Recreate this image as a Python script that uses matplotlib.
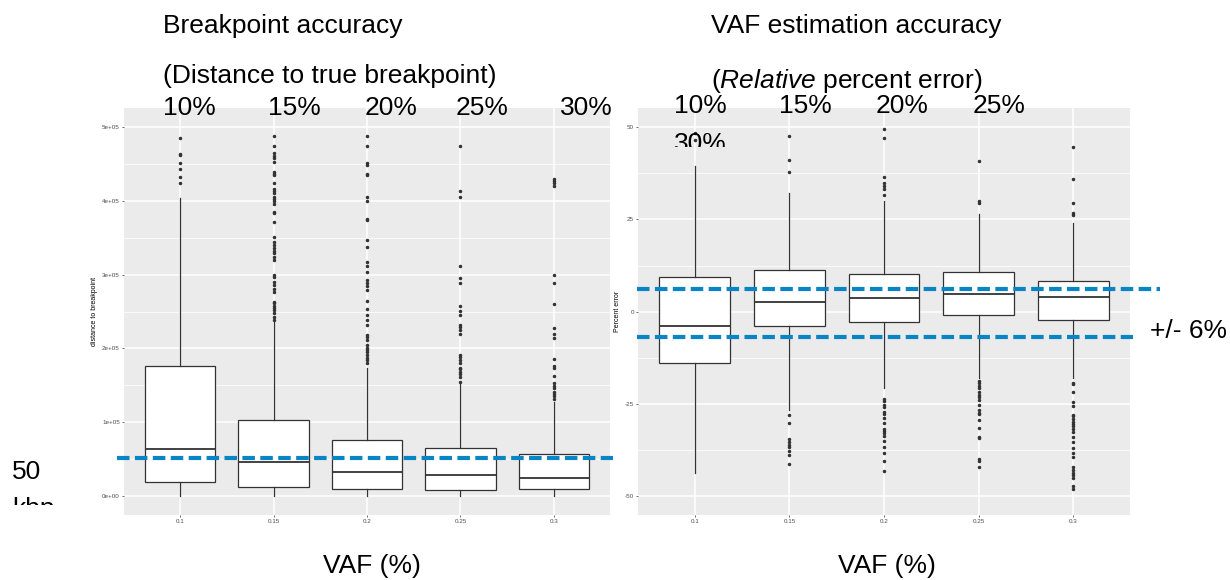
import matplotlib
matplotlib.use('Agg')
import matplotlib.pyplot as plt
from matplotlib.transforms import Bbox

plt.rcParams['font.family'] = ['Liberation Sans', 'DejaVu Sans']
plt.rcParams['mathtext.fontset'] = 'custom'
plt.rcParams['mathtext.rm'] = 'Liberation Sans'
plt.rcParams['mathtext.it'] = 'Liberation Sans:italic'

# categories
vaf_ticks = ['0.1', '0.15', '0.2', '0.25', '0.3']
vaf_pct = ['10%', '15%', '20%', '25%', '30%']

# breakpoint distance (bp) box stats
bp_whislo = [0, 0, 0, 0, 0]
bp_q1 = [19000, 12600, 9500, 8000, 9000]
bp_med = [64000, 45600, 32500, 28000, 24800]
bp_q3 = [176000, 102600, 75500, 64600, 56500]
bp_whishi = [404000, 236000, 173000, 153000, 128000]
bp_fliers = [
    [485000, 463000, 462000, 452000, 443000, 433000, 425000],
    [488000, 474000, 465000, 461000, 458000, 453000, 439000, 437000, 435000, 425000,
     416000, 414000, 411000, 406000, 402000, 400000, 396000, 385000, 384000, 371000,
     351000, 345000, 340000, 336000, 332000, 329000, 324000, 320000, 300000, 297000,
     290000, 286000, 280000, 277000, 263000, 261000, 258000, 255000, 252000, 248000,
     243000, 239000],
    [488000, 474000, 452000, 449000, 436000, 435000, 406000, 400000, 376000, 374000,
     347000, 338000, 317000, 312000, 304000, 293000, 289000, 285000, 279000, 264000,
     253000, 246000, 239000, 232000, 218000, 215000, 211000, 205000, 201000, 198000,
     195000, 191000, 187000, 184000, 180000],
    [474000, 414000, 406000, 312000, 295000, 289000, 258000, 251000, 246000, 232000,
     229000, 225000, 219000, 191000, 188000, 184000, 181000, 174000, 172000, 168000,
     165000, 162000, 155000],
    [430000, 427000, 424000, 420000, 299000, 289000, 260000, 228000, 220000, 214000,
     186000, 176000, 173000, 163000, 153000, 149000, 146000, 141000, 138000, 135000,
     131000],
]
bp_cutoff = 52000

# percent error box stats
err_whislo = [-43.6, -26.6, -20.7, -18.0, -18.0]
err_q1 = [-13.8, -3.9, -2.8, -0.8, -2.3]
err_med = [-3.8, 2.7, 3.7, 4.7, 4.1]
err_q3 = [9.5, 11.4, 10.3, 10.8, 8.4]
err_whishi = [39.5, 32.2, 29.9, 26.5, 23.9]
err_fliers = [
    [48.5, 46.5],
    [47.7, 41.1, 37.8, -28.0, -30.2, -34.6, -35.3, -36.0, -36.7, -37.7, -38.9, -41.2],
    [49.4, 47.0, 36.5, 34.8, 34.0, 33.3, 31.5, -23.7, -24.2, -25.4, -25.7, -27.1,
     -27.7, -28.9, -30.2, -31.7, -32.2, -32.8, -33.7, -35.0, -36.6, -38.2, -40.4, -43.1],
    [40.9, 30.0, 29.4, -18.7, -19.4, -20.1, -20.7, -21.7, -22.6, -23.2, -23.9, -25.3,
     -26.6, -27.4, -27.7, -29.3, -31.6, -33.9, -34.3, -40.0, -40.6, -42.0],
    [44.7, 36.0, 29.5, 26.8, 26.3, -19.2, -19.6, -21.9, -24.6, -25.5, -28.0, -28.4,
     -29.1, -29.8, -30.5, -31.1, -31.9, -32.6, -33.9, -35.4, -37.0, -38.4, -39.3,
     -42.1, -42.9, -43.6, -44.2, -45.0, -47.2, -48.1],
]
err_band = [6.2, -6.8]

W, H = 1230, 580
BLUE = '#0984C4'
fig = plt.figure(figsize=(W / 100, H / 100), dpi=100)


def ggplot_axes(ax, ylim, majors, minors, ylabels, ylab):
    ax.set_facecolor('#EBEBEB')
    for s in ax.spines.values():
        s.set_visible(False)
    ax.set_xlim(0.4, 5.6)
    ax.set_ylim(*ylim)
    ax.set_yticks(majors)
    ax.set_yticklabels(ylabels)
    ax.set_yticks(minors, minor=True)
    ax.set_xticks(range(1, 6))
    ax.set_xticklabels(vaf_ticks)
    ax.grid(which='major', color='white', lw=1.1)
    ax.grid(which='minor', axis='y', color='white', lw=0.55)
    ax.tick_params(which='major', length=1.5, width=0.5, color='#333333',
                   labelsize=4.5, labelcolor='#4D4D4D', pad=1.5)
    ax.tick_params(which='minor', length=0)
    ax.set_ylabel(ylab, fontsize=5, labelpad=3)
    ax.set_axisbelow(True)


def draw_boxes(ax, lo, q1, med, q3, hi, fl):
    stats = []
    for i in range(5):
        stats.append(dict(whislo=lo[i], q1=q1[i], med=med[i], q3=q3[i],
                          whishi=hi[i], fliers=fl[i]))
    ax.bxp(stats, positions=range(1, 6), widths=0.75, patch_artist=True,
           showcaps=False, manage_ticks=False,
           boxprops=dict(facecolor='white', edgecolor='#333333', lw=0.9),
           whiskerprops=dict(color='#333333', lw=0.9),
           medianprops=dict(color='#333333', lw=1.3),
           flierprops=dict(marker='o', markersize=1.5, markerfacecolor='#333333',
                           markeredgecolor='#333333'))


axL = fig.add_axes([124 / W, 1 - 515 / H, 486 / W, 407 / H])
ggplot_axes(axL, (-25700, 526000), [0, 100000, 200000, 300000, 400000, 500000],
            [50000, 150000, 250000, 350000, 450000],
            ['0e+00', '1e+05', '2e+05', '3e+05', '4e+05', '5e+05'],
            'distance to breakpoint')
draw_boxes(axL, bp_whislo, bp_q1, bp_med, bp_q3, bp_whishi, bp_fliers)
axL.plot([-0.014, 1.006], [bp_cutoff, bp_cutoff], transform=axL.get_yaxis_transform(),
         color=BLUE, lw=3, dashes=(3, 1.3), clip_on=False, zorder=5)

axR = fig.add_axes([638 / W, 1 - 515 / H, 492 / W, 407 / H])
ggplot_axes(axR, (-55.1, 55.2), [-50, -25, 0, 25, 50], [-37.5, -12.5, 12.5, 37.5],
            ['-50', '-25', '0', '25', '50'], 'Percent error')
draw_boxes(axR, err_whislo, err_q1, err_med, err_q3, err_whishi, err_fliers)
for yv, xend in zip(err_band, [1.061, 1.006]):
    axR.plot([-0.002, xend], [yv, yv], transform=axR.get_yaxis_transform(),
             color=BLUE, lw=3, dashes=(3, 1.3), clip_on=False, zorder=5)


def ptext(x, y, s, clip=None, **kw):
    kw.setdefault('fontsize', 19)
    kw.setdefault('va', 'baseline')
    t = fig.text(x / W, 1 - y / H, s, **kw)
    if clip is not None:
        # clip given as (top, bottom) in pixels from the top of the picture
        t.set_clip_box(Bbox.from_extents(0, H - clip[1], W, H - clip[0]))
        t.set_clip_on(True)
    return t


ptext(163, 33, 'Breakpoint accuracy')
ptext(163, 83, '(Distance to true breakpoint)')
ptext(711, 33, 'VAF estimation accuracy')
ptext(711, 88, r'($\mathit{Relative}$ percent error)')

for x, s in zip([163, 268, 365, 456, 560], vaf_pct):
    ptext(x, 115, s)
for x, s in zip([674, 779, 876, 973], vaf_pct[:4]):
    ptext(x, 113, s)
ptext(674, 151, vaf_pct[4], clip=(0, 147))

ptext(12, 479, '50')
ptext(12, 516, 'kbp', clip=(0, 505))
ptext(1150, 338, '+/- 6%')

ptext(372, 573, 'VAF (%)', ha='center')
ptext(887, 573, 'VAF (%)', ha='center')

fig.savefig('out.png', dpi=100)
